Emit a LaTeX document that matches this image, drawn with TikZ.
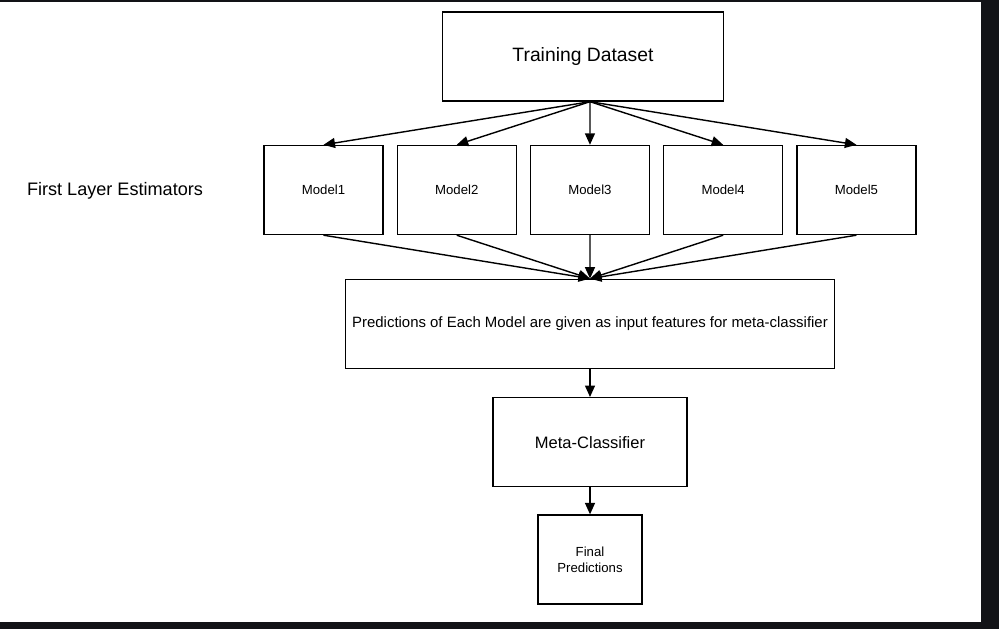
\documentclass[tikz,border=0pt]{standalone}
\usepackage{fontspec}
\setmainfont{Liberation Sans}
\usepackage{tikz}
\usetikzlibrary{arrows.meta, positioning}
\definecolor{frame}{RGB}{18,19,23}
\tikzstyle{block} = [rectangle, minimum width=2.38cm, minimum height=1.78cm, text centered, draw=black, line width=0.8pt, inner sep=0pt]
\tikzstyle{model} = [block, font=\fontsize{7.5}{9}\selectfont]
\tikzstyle{arrow} = [line width=0.8pt, -{Triangle[length=2.3mm, width=2mm]}]

\begin{document}
\begin{tikzpicture}[x=0.02cm, y=-0.02cm, node distance=2.665cm]
        % frame of the screenshot
        \useasboundingbox (0,0) rectangle (999,629);
        \fill [frame] (0,0) rectangle (999,629);
        \fill [white] (0,2) rectangle (981,622);

        \node (train) [block, minimum width=5.62cm, font=\fontsize{11}{13}\selectfont] at (583,56.5) {Training Dataset};
        \node (model1) [model] at (323.5,190) {Model1};
        \node (model2) [model, right of=model1] {Model2};
        \node (model3) [model, right of=model2] {Model3};
        \node (model4) [model, right of=model3] {Model4};
        \node (model5) [model, right of=model4] {Model5};
        \node (layer) [font=\fontsize{10.3}{12}\selectfont] at (115,191) {First Layer Estimators};

        \node (pred) [block, minimum width=9.78cm, font=\fontsize{8.5}{10}\selectfont] at (590,323.8) {Predictions of Each Model are given as input features for meta-classifier};
        \node (meta) [block, minimum width=3.88cm, font=\fontsize{9.4}{11}\selectfont, below=0.56cm of pred] {Meta-Classifier};
        \node (final) [block, minimum width=2.08cm, align=center, font=\fontsize{7.5}{9.2}\selectfont, below=0.54cm of meta] {Final\\Predictions};

        \coordinate (fork) at (train.south -| pred.north);

        \draw [arrow] (fork) -- (model1.north);
        \draw [arrow] (fork) -- (model2.north);
        \draw [arrow] (fork) -- (model3.north);
        \draw [arrow] (fork) -- (model4.north);
        \draw [arrow] (fork) -- (model5.north);

        \draw [arrow] (model1.south) -- (pred.north);
        \draw [arrow] (model2.south) -- (pred.north);
        \draw [arrow] (model3.south) -- (pred.north);
        \draw [arrow] (model4.south) -- (pred.north);
        \draw [arrow] (model5.south) -- (pred.north);

        \draw [arrow] (pred) -- (meta);
        \draw [arrow] (meta) -- (final);
\end{tikzpicture}
\end{document}
